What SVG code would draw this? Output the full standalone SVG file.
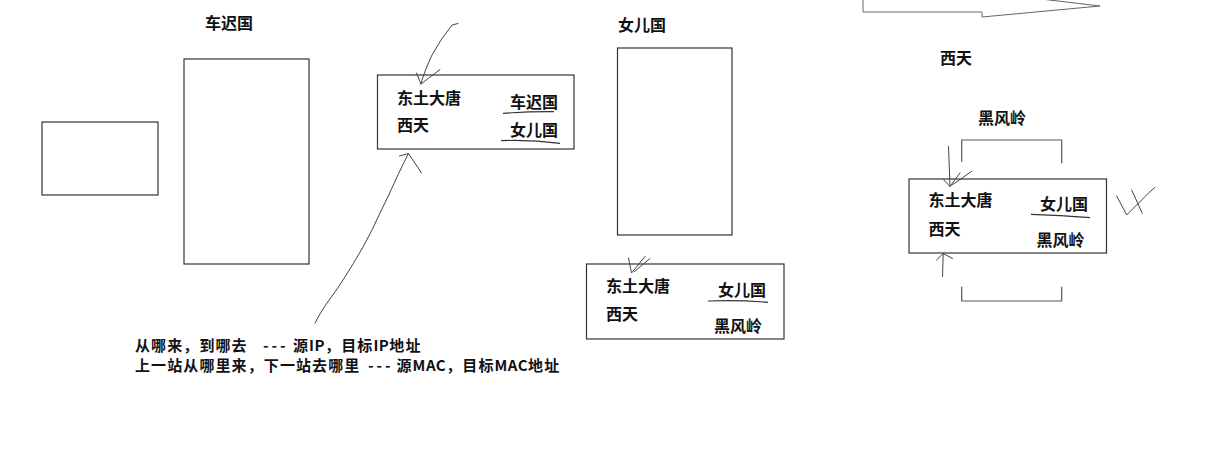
<svg xmlns="http://www.w3.org/2000/svg" width="1220" height="454" viewBox="0 0 1220 454">
<style>
.box{fill:#fff;stroke:#333;stroke-width:1.2}
.t{font-family:"Noto Sans CJK SC","Noto Sans",sans-serif;font-weight:bold;font-size:16px;fill:#111}
.n{font-family:"Noto Sans CJK SC","Noto Sans",sans-serif;font-weight:bold;font-size:15px;letter-spacing:1.1px;fill:#111}
.d{letter-spacing:3px}
.l{letter-spacing:0.5px}
.ul{fill:none;stroke:#333;stroke-width:1.2}
.hand{fill:none;stroke:#444;stroke-width:1;stroke-linecap:round;stroke-linejoin:round}
.br{fill:none;stroke:#555;stroke-width:1.2}
</style>
<rect width="1220" height="454" fill="#fff"/>
<g id="small-box"><rect class="box" x="42" y="122" width="116" height="73"/></g>
<g id="chechi"><text class="t" x="205" y="28.5">车迟国</text><rect class="box" x="184" y="59" width="125" height="205"/></g>
<g id="table1">
<rect class="box" x="377.5" y="75" width="196.5" height="74"/>
<text class="t" x="397" y="103.5">东土大唐</text>
<text class="t" x="397" y="130.5">西天</text>
<text class="t" x="510" y="107.5">车迟国</text>
<text class="t" x="510" y="136">女儿国</text>
<path class="ul" d="M503 113.3 Q530 111.5 554 111.7"/>
<path class="ul" d="M501 140.7 Q530 139.5 560 143.3"/>
</g>
<g id="nver"><text class="t" x="618" y="30.5">女儿国</text><rect class="box" x="617.5" y="48" width="114.5" height="187"/></g>
<g id="table2">
<rect class="box" x="586.5" y="264" width="197.5" height="75"/>
<text class="t" x="606" y="291.5">东土大唐</text>
<text class="t" x="606" y="320">西天</text>
<text class="t" x="718" y="295.5">女儿国</text>
<text class="t" x="714" y="331.5">黑风岭</text>
<path class="ul" d="M708 301 Q740 300 768 302.3"/>
</g>
<g id="xitian"><text class="t" x="940" y="63.5">西天</text></g>
<g id="heifeng"><text class="t" x="978" y="123.5">黑风岭</text>
<path class="br" d="M961.7 161.7 V140 H1061.7 V163.3"/>
<path class="br" d="M961.7 286.7 V301 H1061.7 V286.7"/>
</g>
<g id="table3">
<rect class="box" x="909" y="179" width="197.5" height="74"/>
<text class="t" x="928.5" y="205.5">东土大唐</text>
<text class="t" x="928.5" y="235">西天</text>
<text class="t" x="1040" y="210">女儿国</text>
<text class="t" x="1036.5" y="246">黑风岭</text>
<path class="ul" d="M1031 214.3 Q1060 215 1090 217.7"/>
</g>
<g id="notes">
<text class="n" x="135" y="350.5">从哪来，到哪去<tspan class="d" x="263">---</tspan><tspan x="293">源</tspan><tspan class="l">IP</tspan>，目标<tspan class="l">IP</tspan>地址</text>
<text class="n" x="135" y="371">上一站从哪里来，下一站去哪里<tspan class="d" x="368">---</tspan><tspan x="396.5">源</tspan><tspan class="l">MAC</tspan>，目标<tspan class="l">MAC</tspan>地址</text>
</g>
<g id="connectors">
<polygon points="863,-1 982,-1 982,-8 1100,6 982,17 982,12 863,12" fill="#fff" stroke="#666" stroke-width="1"/>
<path class="hand" d="M458 23.5 L452 25 Q440 40 432 55 Q424 72 421 84"/>
<path class="hand" d="M416.5 73 L421 84 L440 69.5"/>
<path class="hand" d="M315 323 Q320 313 327 303 Q336 291 343 280 Q354 263 363 247 Q372 231 380 213 Q389 195 397 177 Q403 164 408.5 153.5"/>
<path class="hand" d="M399.5 156 L408.5 153.5 L421.5 173"/>
<path class="hand" d="M628.5 258 L631.5 273 L645 256.5 M634.5 271.5 L650 258.5"/>
<path class="hand" d="M948.5 146.5 L950 186.5"/>
<path class="hand" d="M943.5 179.5 L950 186.5 L960 173 M952 185 L971.5 171.5"/>
<path class="hand" d="M942.5 276.5 L943.2 253.5"/>
<path class="hand" d="M936.5 260 L943.2 253.5 L952.5 258.5"/>
<path class="hand" d="M1116.7 196 L1126.7 215 L1148.3 193.3 L1155 187.3 M1131.7 190 L1142.3 213.3"/>
</g>
</svg>
